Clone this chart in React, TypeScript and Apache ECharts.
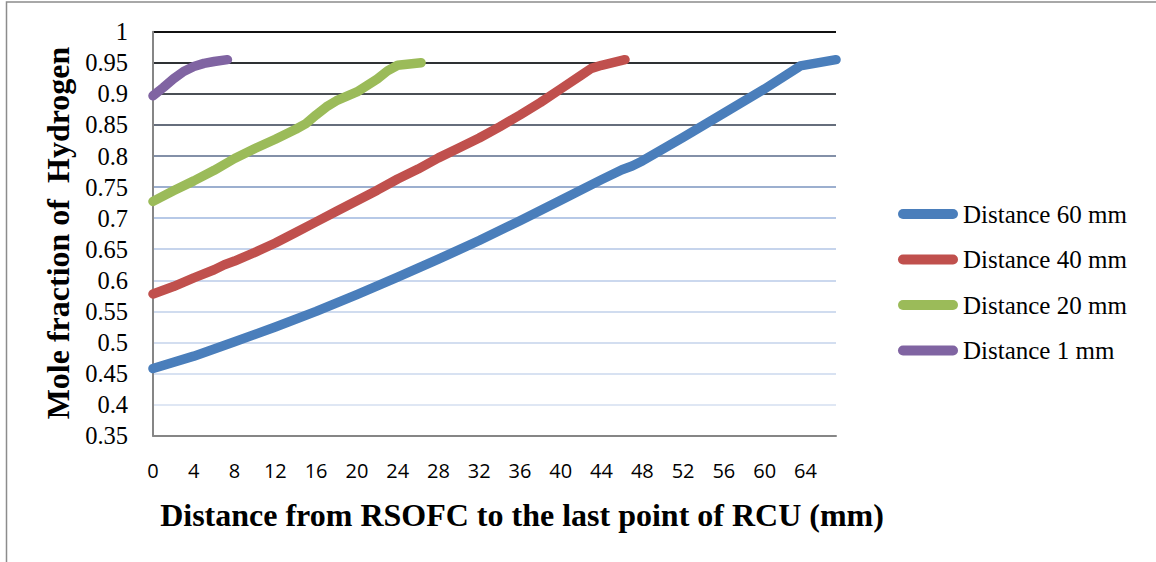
import React, { useEffect, useRef } from "react";
import * as echarts from "echarts";

// Distance from RSOFC (mm) and mole fraction of hydrogen, per series
const xBlue = [0, 4, 8, 12, 16, 20, 24, 28, 32, 36, 40, 44, 46, 47, 48, 52, 56, 60, 63.5, 67];
const yBlue = [0.458, 0.478, 0.501, 0.525, 0.55, 0.577, 0.605, 0.634, 0.664, 0.696, 0.729, 0.762, 0.778, 0.784, 0.792, 0.83, 0.869, 0.908, 0.945, 0.955];

const xRed = [0, 2, 4, 6, 7, 8, 10, 12, 14, 16, 18, 20, 22, 24, 26, 28, 30, 32, 34, 36, 38, 40, 42, 43, 44, 46.3];
const yRed = [0.578, 0.59, 0.604, 0.617, 0.625, 0.631, 0.645, 0.66, 0.677, 0.694, 0.711, 0.728, 0.745, 0.763, 0.779, 0.797, 0.813, 0.829, 0.847, 0.866, 0.886, 0.908, 0.93, 0.941, 0.946, 0.955];

const xGreen = [0, 2, 4, 6, 8, 10, 12, 14, 15, 16, 17, 18, 20, 22, 23, 24, 26.3];
const yGreen = [0.727, 0.744, 0.76, 0.777, 0.796, 0.812, 0.827, 0.843, 0.852, 0.866, 0.879, 0.889, 0.903, 0.924, 0.937, 0.946, 0.95];

const xPurple = [0, 1, 2, 3, 4, 5, 6, 7.3];
const yPurple = [0.897, 0.91, 0.924, 0.936, 0.944, 0.949, 0.952, 0.955];

const seriesNames = ["Distance 60 mm", "Distance 40 mm", "Distance 20 mm", "Distance 1 mm"];
const seriesColors = ["#4a7ebb", "#c0504d", "#9bbb59", "#8064a2"];

const yTickLabels = ["0.35", "0.4", "0.45", "0.5", "0.55", "0.6", "0.65", "0.7", "0.75", "0.8", "0.85", "0.9", "0.95", "1"];

const xTitle = "Distance from RSOFC to the last point of RCU (mm)";
const yTitle = "Mole fraction of  Hydrogen";

const gridColors = [
  "#dfe7f4", "#dfe7f4", "#d8e2f2", "#d3def0", "#d0dcef", "#cbd8ee", "#c6d4ec",
  "#b7c9e7", "#9cafcf", "#8390a8", "#666e7c", "#4a4f55", "#2e3134", "#111111",
];

const zip = (xs: number[], ys: number[]) => xs.map((x, i) => [x, ys[i]]);

const SERIF = "'Liberation Serif', 'Times New Roman', serif";

export default function App() {
  const ref = useRef<HTMLDivElement>(null);
  useEffect(() => {
    if (!ref.current) return;
    const chart = echarts.init(ref.current, undefined, { renderer: "svg" });
    const datasets = [zip(xBlue, yBlue), zip(xRed, yRed), zip(xGreen, yGreen), zip(xPurple, yPurple)];
    chart.setOption({
      animation: false,
      backgroundColor: "#ffffff",
      textStyle: { fontFamily: SERIF, fontSize: 25, color: "#000" },
      grid: { left: 153, top: 31.7, right: 1156 - 836, bottom: 562 - 435.7, containLabel: false },
      xAxis: {
        type: "value",
        min: 0,
        max: 67,
        interval: 4,
        axisLine: { show: true, lineStyle: { color: "#868686", width: 2 } },
        axisTick: { show: false },
        splitLine: { show: false },
        axisLabel: {
          showMaxLabel: false,
          margin: 25,
          fontFamily: "'Open Sans', sans-serif",
          fontSize: 20,
          color: "#000",
          formatter: (v: number) => (v % 4 === 0 ? String(v) : ""),
        },
      },
      yAxis: {
        type: "value",
        min: 0.35,
        max: 1,
        interval: 0.05,
        axisLine: { show: true, lineStyle: { color: "#868686", width: 2 } },
        axisTick: { show: false },
        splitLine: { show: true, lineStyle: { color: gridColors, width: 1.8 } },
        axisLabel: {
          show: true,
          margin: 25,
          fontFamily: SERIF,
          fontSize: 24.5,
          color: "#000",
          formatter: (v: number) => {
            const i = Math.round((v - 0.35) / 0.05);
            return yTickLabels[i] ?? "";
          },
        },
      },
      legend: {
        orient: "vertical",
        left: 893,
        top: 196,
        itemWidth: 60,
        itemHeight: 10,
        itemGap: 19.5,
        icon: "path://M5,0 H55 A5,5 0 0 1 55,10 H5 A5,5 0 0 1 5,0 Z",
        textStyle: { fontFamily: SERIF, fontSize: 25, color: "#000", lineHeight: 26 },
        data: seriesNames,
      },
      series: datasets.map((d, i) => ({
        name: seriesNames[i],
        type: "line",
        data: d,
        showSymbol: false,
        symbol: "none",
        color: seriesColors[i],
        lineStyle: { width: 9.5, color: seriesColors[i], cap: "round", join: "round" },
        clip: true,
      })),
      graphic: [
        {
          type: "rect",
          shape: { x: 6.5, y: 2, width: 1200, height: 600 },
          style: { fill: "none", stroke: "#8c8c8c", lineWidth: 1.5 },
          silent: true,
        },
        {
          type: "text",
          x: 522,
          y: 515,
          style: {
            text: xTitle,
            fontFamily: SERIF,
            fontWeight: "bold",
            fontSize: 32,
            fill: "#000",
            align: "center",
            verticalAlign: "middle",
          },
        },
        {
          type: "text",
          x: 58,
          y: 233,
          rotation: Math.PI / 2,
          style: {
            text: yTitle,
            fontFamily: SERIF,
            fontWeight: "bold",
            fontSize: 32,
            fill: "#000",
            align: "center",
            verticalAlign: "middle",
          },
        },
      ],
    });
    return () => chart.dispose();
  }, []);
  return (
    <div
      ref={ref}
      style={{ position: "fixed", left: 0, top: 0, width: 1156, height: 562, background: "#fff" }}
    />
  );
}
